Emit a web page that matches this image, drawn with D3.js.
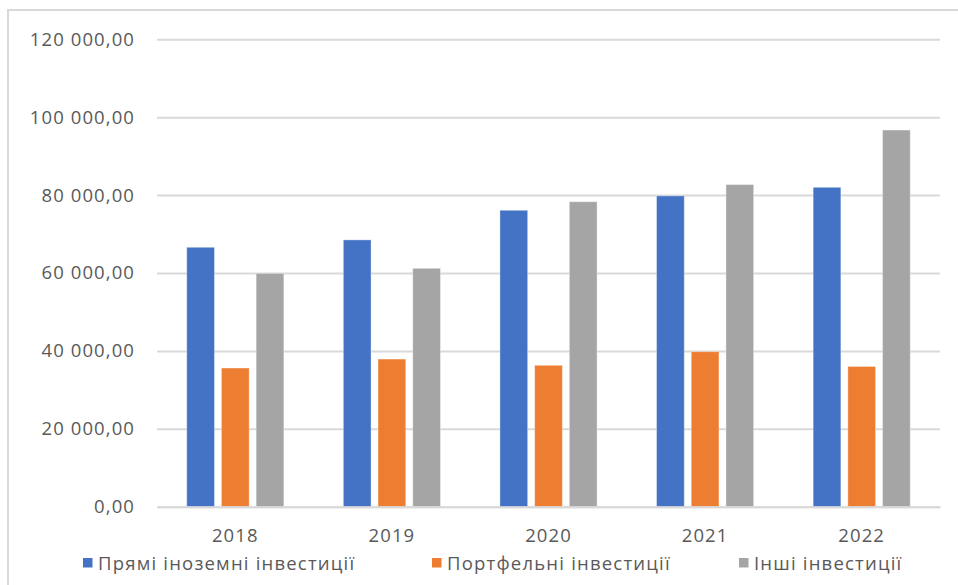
<!DOCTYPE html>
<html>
<head>
<meta charset="utf-8">
<script src="https://cdn.jsdelivr.net/npm/d3@7"></script>
<style>
  html, body { margin: 0; padding: 0; background: #fff; }
  svg { display: block; }
  text { font-family: "Open Sans", "Noto Sans", sans-serif; fill: #595959; }
</style>
</head>
<body>
<svg id="chart" width="958" height="585"></svg>
<script>
// Years on the category axis
const years = ["2018", "2019", "2020", "2021", "2022"];

// Series names (legend) and their colours
const seriesNames = ["Прямі іноземні інвестиції", "Портфельні інвестиції", "Інші інвестиції"];
const seriesColors = ["#4472C4", "#ED7D31", "#A5A5A5"];

// Values per year for each series
const directInvestment = [66600, 68500, 76100, 79800, 82000];
const portfolioInvestment = [35600, 37900, 36300, 39800, 36000];
const otherInvestment = [59900, 61200, 78300, 82700, 96700];

// Value-axis ticks
const yTicks = [0, 20000, 40000, 60000, 80000, 100000, 120000];

const seriesValues = [directInvestment, portfolioInvestment, otherInvestment];

const svg = d3.select("#chart");
const plot = { left: 157, right: 940, top: 39.3, bottom: 506.7 };

// chart frame
svg.append("rect")
  .attr("x", 8).attr("y", 10)
  .attr("width", 1000).attr("height", 600)
  .attr("fill", "none")
  .attr("stroke", "#d9d9d9")
  .attr("stroke-width", 2);

const x0 = d3.scaleBand().domain(years).range([plot.left, plot.right]).paddingInner(0).paddingOuter(0);
const y = d3.scaleLinear().domain([0, 120000]).range([plot.bottom, plot.top]);

const locale = d3.formatLocale({ decimal: ",", thousands: " ", grouping: [3], currency: ["", ""] });
const fmt = locale.format(",.2f");

// value axis with gridlines
const yAxis = d3.axisLeft(y).tickValues(yTicks).tickSize(-(plot.right - plot.left)).tickFormat(fmt).tickPadding(22);
const gy = svg.append("g").attr("transform", `translate(${plot.left},0)`).call(yAxis);
gy.select(".domain").remove();
gy.selectAll(".tick line").attr("stroke", "#d9d9d9").attr("stroke-width", 2);
gy.selectAll(".tick text")
  .attr("font-size", "18.5px")
  .style("letter-spacing", "1.1px")
  .attr("fill", "#595959");

// bars: group of three per year
const barW = 27.7, barGap = 7;
const groupW = barW * 3 + barGap * 2;
const x1 = d3.scaleOrdinal().domain([0, 1, 2]).range([0, barW + barGap, 2 * (barW + barGap)]);

years.forEach((yr, i) => {
  const gx = x0(yr) + (x0.bandwidth() - groupW) / 2;
  seriesValues.forEach((vals, s) => {
    svg.append("rect")
      .attr("x", gx + x1(s))
      .attr("y", y(vals[i]))
      .attr("width", barW)
      .attr("height", y(0) - y(vals[i]))
      .attr("fill", seriesColors[s])
      .attr("stroke", "#ffffff")
      .attr("stroke-opacity", 0.35)
      .attr("stroke-width", 1);
  });
});

// category axis
const xAxis = d3.axisBottom(x0).tickSize(0).tickPadding(22);
const gx = svg.append("g").attr("transform", `translate(0,${plot.bottom})`).call(xAxis);
gx.select(".domain").attr("stroke", "#d9d9d9").attr("stroke-width", 2);
gx.selectAll(".tick text")
  .attr("font-size", "18.5px")
  .style("letter-spacing", "1.1px")
  .attr("fill", "#595959");

// legend
const legendX = [83, 432, 739];
const legend = svg.append("g");
seriesNames.forEach((name, s) => {
  legend.append("rect")
    .attr("x", legendX[s]).attr("y", 558)
    .attr("width", 9.5).attr("height", 9.5)
    .attr("fill", seriesColors[s]);
  legend.append("text")
    .attr("x", legendX[s] + 15).attr("y", 570)
    .attr("font-size", "18.5px")
    .style("letter-spacing", "1.2px")
    .text(name);
});
</script>
</body>
</html>
